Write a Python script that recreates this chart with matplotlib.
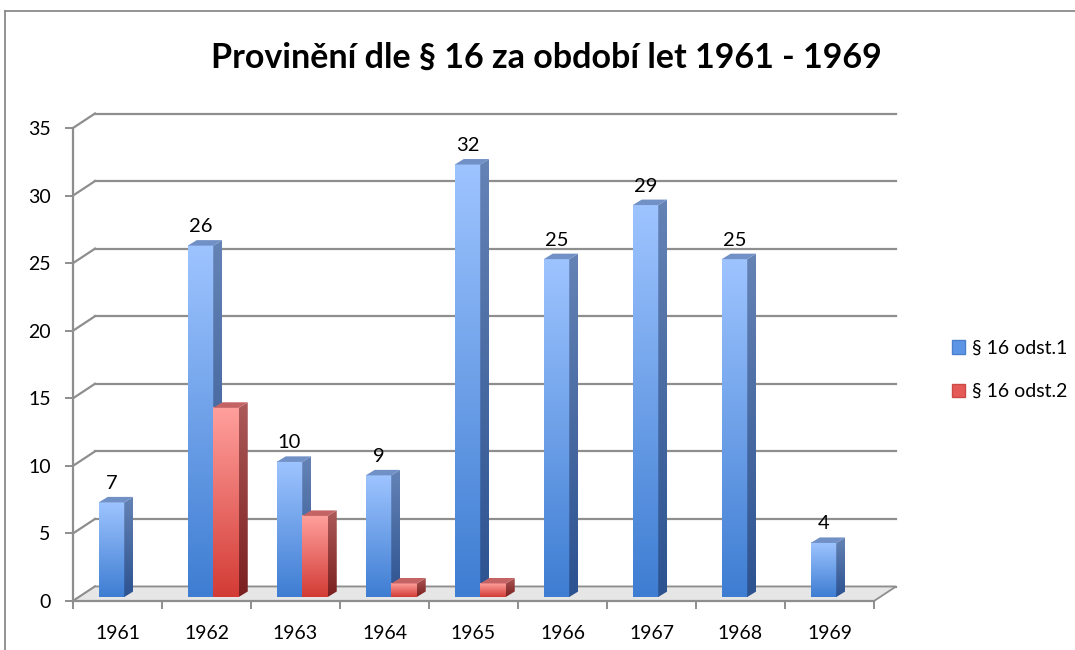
import matplotlib
matplotlib.use("Agg")
import matplotlib.pyplot as plt
import numpy as np
from matplotlib.colors import LinearSegmentedColormap
from matplotlib.patches import Polygon, Patch
from matplotlib.lines import Line2D

years = ["1961", "1962", "1963", "1964", "1965", "1966", "1967", "1968", "1969"]
odst1 = [7, 26, 10, 9, 32, 25, 29, 25, 4]
odst2 = [0, 14, 6, 1, 1, 0, 0, 0, 0]
series_names = ["§ 16 odst.1", "§ 16 odst.2"]
title = "Provinění dle § 16 za období let 1961 - 1969"
yticks = [0, 5, 10, 15, 20, 25, 30, 35]

plt.rcParams["font.family"] = ["Lato", "DejaVu Sans"]

fig = plt.figure(figsize=(10.75, 6.5), dpi=100)
ax = fig.add_axes([73 / 1075, 49 / 650, 801 / 1075, 473 / 650])
ax.set_xlim(-0.5, len(years) - 0.5)
ax.set_ylim(0, 35)

# pixel -> data unit conversion (fixed figure size)
ux = 801 / 9
uy = 473 / 35
wall_dx, wall_dy = 22 / ux, 14.5 / uy      # depth of the back wall
bar_dx, bar_dy = 9 / ux, 5.5 / uy          # depth of each bar
base = 4 / uy                              # bars stand a bit behind the front edge
shift = 6.75 / ux
bw = 25.5 / ux

grid_c = "#8e8e8e"

# floor
floor = Polygon([(-0.5, 0), (8.5, 0), (8.5 + wall_dx, wall_dy), (-0.5 + wall_dx, wall_dy)],
                closed=True, facecolor="#e6e6e6", edgecolor=grid_c, lw=1.3,
                zorder=1, clip_on=False)
ax.add_patch(floor)

# back wall gridlines and diagonals
for v in yticks:
    ax.plot([-0.5 + wall_dx, 8.5 + wall_dx], [v + wall_dy, v + wall_dy],
            color=grid_c, lw=1.6, zorder=0.5, clip_on=False)
    ax.plot([-0.5, -0.5 + wall_dx], [v, v + wall_dy],
            color=grid_c, lw=1.6, zorder=0.5, clip_on=False)

styles = [
    dict(front=("#9ec4ff", "#3e7dd2"), side=("#6583b5", "#2c5290"), top="#7090c6"),
    dict(front=("#ffa09d", "#d33b35"), side=("#ad5a5a", "#7a1f1f"), top="#c46363"),
]
grad = np.linspace(0, 1, 256).reshape(-1, 1)


def draw_bar(x0, h, st, z):
    x1 = x0 + bw
    y0 = base
    y1 = base + h
    cm_f = LinearSegmentedColormap.from_list("f", list(st["front"]))
    cm_s = LinearSegmentedColormap.from_list("s", list(st["side"]))
    # front face
    ax.imshow(grad, extent=(x0, x1, y0, y1), origin="upper", cmap=cm_f,
              aspect="auto", interpolation="bilinear", zorder=z, clip_on=False)
    # side face
    side = Polygon([(x1, y0), (x1 + bar_dx, y0 + bar_dy), (x1 + bar_dx, y1 + bar_dy), (x1, y1)],
                   closed=True, facecolor="none", edgecolor="none", transform=ax.transData)
    ax.add_patch(side)
    im = ax.imshow(grad, extent=(x1, x1 + bar_dx, y0, y1 + bar_dy), origin="upper",
                   cmap=cm_s, aspect="auto", interpolation="bilinear", zorder=z)
    im.set_clip_path(side)
    # top face
    ax.add_patch(Polygon([(x0, y1), (x1, y1), (x1 + bar_dx, y1 + bar_dy), (x0 + bar_dx, y1 + bar_dy)],
                         closed=True, facecolor=st["top"], edgecolor="none",
                         zorder=z, clip_on=False))


z = 2
for i in range(len(years)):
    for s, vals in enumerate([odst1, odst2]):
        v = vals[i]
        if v <= 0:
            continue
        x0 = i + shift - bw + s * bw
        draw_bar(x0, v, styles[s], z)
        z += 0.1
        if s == 0:
            ax.text(x0 + bw / 2, base + v + 1.0, str(v), ha="center", va="baseline",
                    fontsize=14.5, color="black", zorder=50)

ax.set_xlim(-0.5, len(years) - 0.5)
ax.set_ylim(0, 35)

# axes styling
for sp in ["top", "right"]:
    ax.spines[sp].set_visible(False)
for sp in ["left", "bottom"]:
    ax.spines[sp].set_color(grid_c)
    ax.spines[sp].set_linewidth(1.6)
    ax.spines[sp].set_zorder(60)

ax.set_yticks(yticks)
ax.set_yticklabels([str(t) for t in yticks], fontsize=14)
ax.tick_params(axis="y", length=6, width=1.4, color=grid_c, pad=10)

ax.set_xticks(range(len(years)))
ax.set_xticklabels(years, fontsize=14)
ax.set_xticks(np.arange(-0.5, len(years)), minor=True)
ax.tick_params(axis="x", which="major", length=0, pad=17)
ax.tick_params(axis="x", which="minor", length=6, width=1.4, color=grid_c)

fig.text(546 / 1075, 1 - 58 / 650, title, ha="center", va="center",
         fontsize=24.5, fontweight="bold")

handles = [Patch(facecolor="#5d95e6", edgecolor="#4a7fcc"),
           Patch(facecolor="#e55a55", edgecolor="#cc4a45")]
fig.legend(handles, series_names, loc="center left",
           bbox_to_anchor=(934 / 1075, 1 - 370 / 650), frameon=False,
           handlelength=0.7, handleheight=0.7, handletextpad=0.35,
           labelspacing=1.35, fontsize=14)

# chart border
fig.add_artist(Line2D([5 / 1075, 1], [1 - 11 / 650, 1 - 11 / 650], color="#8a8a8a", lw=1.3))
fig.add_artist(Line2D([5 / 1075, 5 / 1075], [0, 1 - 11 / 650], color="#8a8a8a", lw=1.3))

fig.savefig("out.png", dpi=100)
